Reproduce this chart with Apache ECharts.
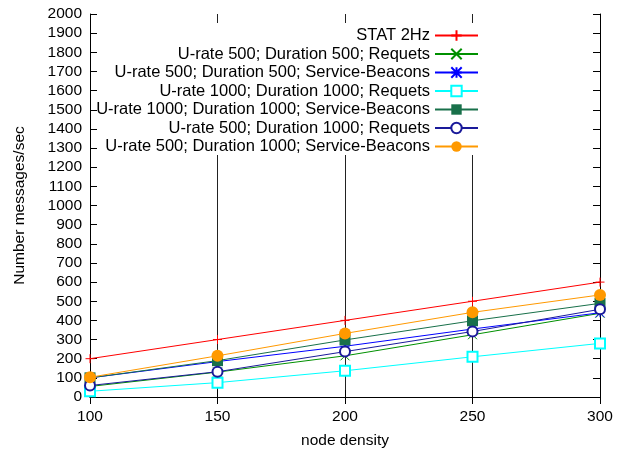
<!DOCTYPE html>
<html>
<head>
<meta charset="utf-8">
<script src="https://cdn.jsdelivr.net/npm/echarts@6/dist/echarts.min.js"></script>
<style>html,body{margin:0;padding:0;background:#fff;}#c{width:620px;height:454px;}</style>
</head>
<body>
<div id="c"></div>
<script>
const nodeDensity = [100, 150, 200, 250, 300];
const seriesNames = [
  'STAT 2Hz',
  'U-rate 500; Duration 500; Requets',
  'U-rate 500; Duration 500; Service-Beacons',
  'U-rate 1000; Duration 1000; Requets',
  'U-rate 1000; Duration 1000; Service-Beacons',
  'U-rate 500; Duration 1000; Requets',
  'U-rate 500; Duration 1000; Service-Beacons'
];
const stat2Hz = [200, 300, 400, 500, 600];
const u500d500Req = [55, 130, 215, 325, 437];
const u500d500SB = [100, 185, 265, 355, 440];
const u1000d1000Req = [30, 75, 137, 210, 280];
const u1000d1000SB = [100, 190, 298, 398, 489];
const u500d1000Req = [60, 132, 237, 342, 458];
const u500d1000SB = [103, 215, 332, 442, 533];
const yTicks = {min: 0, max: 2000, interval: 100};
const xTicks = {min: 100, max: 300, interval: 50};

const allValues = [stat2Hz, u500d500Req, u500d500SB, u1000d1000Req, u1000d1000SB, u500d1000Req, u500d1000SB];
const colors = ['#ff0000', '#009000', '#0000ff', '#00ffff', '#18704a', '#1a1a9a', '#ff9900'];
const symbols = [
  'path://M5,0L5,10M0,5L10,5',
  'path://M0,0L10,10M10,0L0,10',
  'path://M0,0L10,10M10,0L0,10M5,0L5,10M0,5L10,5',
  'emptyRect',
  'rect',
  'emptyCircle',
  'circle'
];
const symSizes = [9, 9, 9, 10, 11, 10, 12];
const font = "'Liberation Sans', Arial, sans-serif";

const series = allValues.map((vals, i) => ({
  name: seriesNames[i],
  type: 'line',
  data: nodeDensity.map((x, j) => [x, vals[j]]),
  symbol: symbols[i],
  symbolSize: symSizes[i],
  showSymbol: true,
  lineStyle: {color: colors[i], width: 1},
  itemStyle: {color: colors[i], borderColor: colors[i], borderWidth: (i < 3 ? 1 : (symbols[i].indexOf('empty') === 0 ? 1.2 : 0))},
  emphasis: {disabled: true},
  z: 2 + i * 0.01
}));

const rowY = [34, 52.5, 71, 89.5, 108, 126.5, 145];
const legends = seriesNames.map((n, i) => ({
  data: [n],
  orient: 'vertical',
  align: 'right',
  right: 141,
  top: rowY[i] - 7,
  padding: 0,
  itemWidth: 43,
  itemHeight: 13,
  selectedMode: false,
  z: 5,
  textStyle: {fontSize: 16.5, color: '#000', fontFamily: font}
}));

const axisLine = {show: true, lineStyle: {color: '#000', width: 1}};
const chart = echarts.init(document.getElementById('c'), null, {renderer: 'canvas'});
chart.setOption({
  animation: false,
  backgroundColor: '#fff',
  textStyle: {fontFamily: font},
  grid: {left: 90, right: 20, top: 14, bottom: 57, containLabel: false},
  legend: legends,
  graphic: [{type: 'rect', z: 3, shape: {x: 97, y: 23, width: 388, height: 132}, style: {fill: '#fff'}}],
  xAxis: [
    {type: 'value', min: xTicks.min, max: xTicks.max, interval: xTicks.interval, position: 'bottom',
     axisLine: axisLine, axisTick: {show: true, inside: true, length: 7, lineStyle: {color: '#000'}},
     axisLabel: {margin: 12, fontSize: 15.5, color: '#000', fontFamily: font},
     splitLine: {show: true, lineStyle: {color: '#222', width: 1}},
     name: 'node density', nameLocation: 'middle', nameGap: 36,
     nameTextStyle: {fontSize: 15.5, color: '#000', fontFamily: font}},
    {type: 'value', min: xTicks.min, max: xTicks.max, interval: xTicks.interval, position: 'top',
     axisLine: axisLine, axisTick: {show: true, inside: true, length: 7, lineStyle: {color: '#000'}},
     axisLabel: {show: false}, splitLine: {show: false}}
  ],
  yAxis: [
    {type: 'value', min: yTicks.min, max: yTicks.max, interval: yTicks.interval, position: 'left',
     axisLine: axisLine, axisTick: {show: true, inside: true, length: 7, lineStyle: {color: '#000'}},
     axisLabel: {margin: 8, fontSize: 15.5, color: '#000', fontFamily: font, formatter: v => String(v)},
     splitLine: {show: false},
     name: 'Number messages/sec', nameLocation: 'middle', nameGap: 62,
     nameTextStyle: {fontSize: 15.5, color: '#000', fontFamily: font}},
    {type: 'value', min: yTicks.min, max: yTicks.max, interval: yTicks.interval, position: 'right',
     axisLine: axisLine, axisTick: {show: true, inside: true, length: 7, lineStyle: {color: '#000'}},
     axisLabel: {show: false}, splitLine: {show: false}}
  ],
  series: series
});
</script>
</body>
</html>
